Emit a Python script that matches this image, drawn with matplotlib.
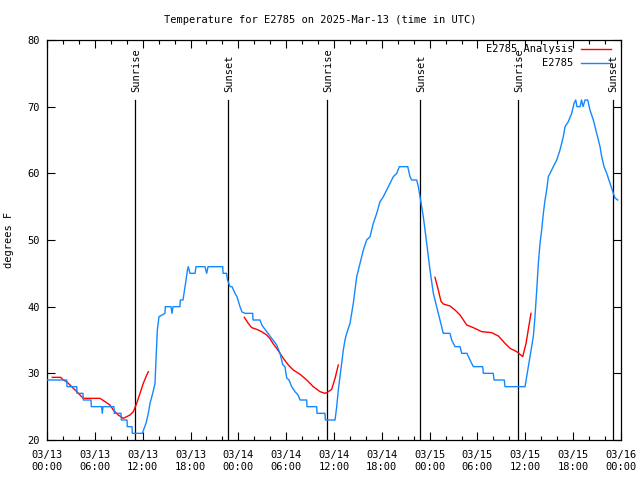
import numpy as np
import matplotlib
matplotlib.use("Agg")
import matplotlib.pyplot as plt

plt.rcParams['font.family'] = ['DejaVu Sans Mono']

title = "Temperature for E2785 on 2025-Mar-13 (time in UTC)"

# hours since 03/13 00:00 UTC
obs_hours = [0, 2.47, 2.51, 3.73, 3.76, 4.52, 4.55, 5.52, 5.56, 6.84, 6.94, 7.02, 8.40, 8.44,
             9.28, 9.32, 10.04, 10.07, 10.66, 10.70, 11.95, 12.42, 12.71, 12.92, 13.26, 13.55,
             13.67, 13.84, 14.05, 14.80, 14.84, 15.55, 15.68, 15.81, 16.68, 16.72, 17.06, 17.19,
             17.44, 17.62, 17.72, 17.94, 18.57, 18.69, 19.82, 20.03, 20.20, 22.04, 22.08, 22.52,
             22.64, 22.96, 23.21, 23.58, 23.83, 24.21, 24.46, 24.84, 25.80, 25.84, 26.72, 26.97,
             27.72, 27.97, 28.35, 28.81, 29.23, 29.57, 29.85, 30.07, 30.36, 30.69, 31.11, 31.49,
             31.74, 32.58, 32.61, 33.83, 33.87, 34.87, 34.91, 36.13, 36.34, 36.54, 36.75, 36.97,
             37.17, 37.38, 37.59, 38.01, 38.42, 38.64, 38.85, 39.26, 39.68, 40.10, 40.52, 40.93,
             41.36, 41.77, 42.19, 42.61, 43.03, 43.44, 43.87, 44.19, 45.25, 45.53, 45.75, 46.37,
             46.58, 46.79, 47.20, 47.63, 48.04, 48.46, 48.88, 49.30, 49.71, 50.55, 50.76, 51.18,
             51.81, 52.02, 52.68, 53.06, 53.48, 54.65, 54.73, 55.98, 56.07, 57.36, 57.45, 59.96,
             60.17, 60.59, 61.00, 61.21, 61.43, 61.63, 61.84, 62.05, 62.26, 62.47, 62.68, 62.88,
             63.10, 63.51, 63.94, 64.35, 64.76, 64.98, 65.39, 65.82, 66.11, 66.32, 66.48, 66.86,
             67.05, 67.24, 67.49, 67.82, 68.11, 68.53, 68.95, 69.37, 69.58, 69.87, 70.21, 70.62,
             71.04, 71.25, 71.59]
obs_temps = [29, 29, 28, 28, 27, 27, 26, 26, 25, 25, 24, 25, 25, 24,
             24, 23, 23, 22, 22, 21, 21, 22.5, 24, 25.5, 27, 28.5,
             32, 36.5, 38.5, 39, 40, 40, 39, 40, 40, 41, 41, 42,
             44, 45.5, 46, 45, 45, 46, 46, 45, 46, 46, 45, 45,
             44, 43, 43, 42, 41.5, 40, 39.2, 39, 39, 38, 38, 37.2,
             36, 35.6, 35, 34.25, 33, 31.3, 31, 29.3, 29, 28, 27.25, 26.75,
             26, 26, 25, 25, 24, 24, 23, 23, 25, 27.5, 29.5, 31.5,
             33.5, 35, 36, 37.5, 40.5, 42.5, 44.5, 46.5, 48.5, 50, 50.5, 52.5,
             54, 55.75, 56.5, 57.5, 58.5, 59.5, 60, 61, 61, 59.5, 59, 59,
             58, 56.5, 53.5, 49.5, 45.5, 42, 40, 38, 36, 36, 35, 34,
             34, 33, 33, 32, 31, 31, 30, 30, 29, 29, 28, 28,
             29.5, 32.5, 35.5, 38.5, 42.5, 46.5, 49.5, 51.5, 54, 56, 57.5, 59.5,
             60, 61, 62, 63.5, 65.5, 67, 67.75, 69, 70.5, 71, 70, 70,
             71, 70, 71, 71, 69.5, 68, 66, 64, 62.5, 61, 60, 58.5,
             57, 56.3, 56]

ana_hours = [0.66, 1.72, 2.04, 2.47, 3.10, 3.73, 4.14, 4.55, 6.65, 7.28, 7.90, 8.32, 8.94,
             9.57, 10.00, 10.41, 10.83, 11.25, 11.67, 12.08, 12.51, 12.71, np.nan,
             24.75, 25.25, 25.68, 26.30, 26.93, 27.56, 27.97, 28.39, 28.81, 29.64, 30.27,
             30.90, 31.74, 32.58, 33.40, 34.25, 34.87, 35.29, 35.71, 36.13, 36.54, np.nan,
             48.67, 49.08, 49.42, 49.71, 50.55, 51.18, 51.81, 52.65, 53.48, 54.53, 55.79,
             56.61, 57.45, 58.08, 58.92, 59.67, 60.09, 60.50, 60.71]
ana_temps = [29.4, 29.4, 29.0, 28.75, 28.0, 27.25, 26.75, 26.25, 26.25, 25.75, 25.25, 24.5, 23.75,
             23.25, 23.5, 23.75, 24.25, 25.5, 27.0, 28.5, 29.75, 30.25, np.nan,
             38.4, 37.5, 36.85, 36.6, 36.25, 35.75, 35.2, 34.4, 33.75, 32.25, 31.25,
             30.5, 29.85, 29.0, 28.0, 27.25, 27.0, 27.25, 27.6, 29.25, 31.25, np.nan,
             44.4, 42.5, 40.8, 40.4, 40.1, 39.5, 38.75, 37.25, 36.85, 36.25, 36.1,
             35.6, 34.5, 33.75, 33.25, 32.5, 34.5, 37.5, 39.0]

sun_events = ["Sunrise", "Sunset", "Sunrise", "Sunset", "Sunrise", "Sunset"]
sun_hours = [11.08, 22.70, 35.16, 46.79, 59.12, 70.96]

tick_hours = list(range(0, 73, 6))
tick_labels = ["03/13\n00:00", "03/13\n06:00", "03/13\n12:00", "03/13\n18:00",
               "03/14\n00:00", "03/14\n06:00", "03/14\n12:00", "03/14\n18:00",
               "03/15\n00:00", "03/15\n06:00", "03/15\n12:00", "03/15\n18:00",
               "03/16\n00:00"]
y_ticks = [20, 30, 40, 50, 60, 70, 80]

RED = '#ff0000'
BLUE = '#1488ff'
fs = 7.5

fig = plt.figure(figsize=(6.4, 4.8), dpi=100)
ax = fig.add_axes([47/640, 40/480, 574/640, 400/480])

ax.plot(ana_hours, ana_temps, color=RED, lw=1.0, zorder=3)
ax.plot(obs_hours, obs_temps, color=BLUE, lw=1.0, zorder=3)

for name, h in zip(sun_events, sun_hours):
    ax.plot([h, h], [20, 71], color='black', lw=0.9, zorder=2)
    ax.text(h + 0.1, 72.2, name, rotation=90, ha='center', va='bottom', fontsize=fs)

ax.set_xlim(0, 72)
ax.set_ylim(20, 80)
ax.set_xticks(tick_hours)
ax.set_xticklabels(tick_labels, fontsize=fs, linespacing=1.3)
ax.set_xticks(np.arange(0, 73, 2), minor=True)
ax.set_yticks(y_ticks)
ax.set_yticklabels([str(v) for v in y_ticks], fontsize=fs)
ax.tick_params(which='both', direction='in', top=True, right=True, width=0.8)
ax.tick_params(axis='x', which='major', length=6, pad=7)
ax.tick_params(axis='y', which='major', length=6, pad=5)
ax.tick_params(which='minor', length=3)
for s in ax.spines.values():
    s.set_linewidth(0.9)

ax.set_ylabel("degrees F", fontsize=fs, labelpad=10)
fig.text(0.5, 1 - 20/480, title, ha='center', va='center', fontsize=fs)

# legend (gnuplot style, right-aligned text)
ax.text(0.917, 0.977, "E2785 Analysis", transform=ax.transAxes, ha='right', va='center', fontsize=fs)
ax.text(0.917, 0.942, "E2785", transform=ax.transAxes, ha='right', va='center', fontsize=fs)
ax.plot([0.930, 0.983], [0.977, 0.977], transform=ax.transAxes, color=RED, lw=1.0)
ax.plot([0.930, 0.983], [0.942, 0.942], transform=ax.transAxes, color=BLUE, lw=1.0)

fig.savefig("out.png", dpi=100)
